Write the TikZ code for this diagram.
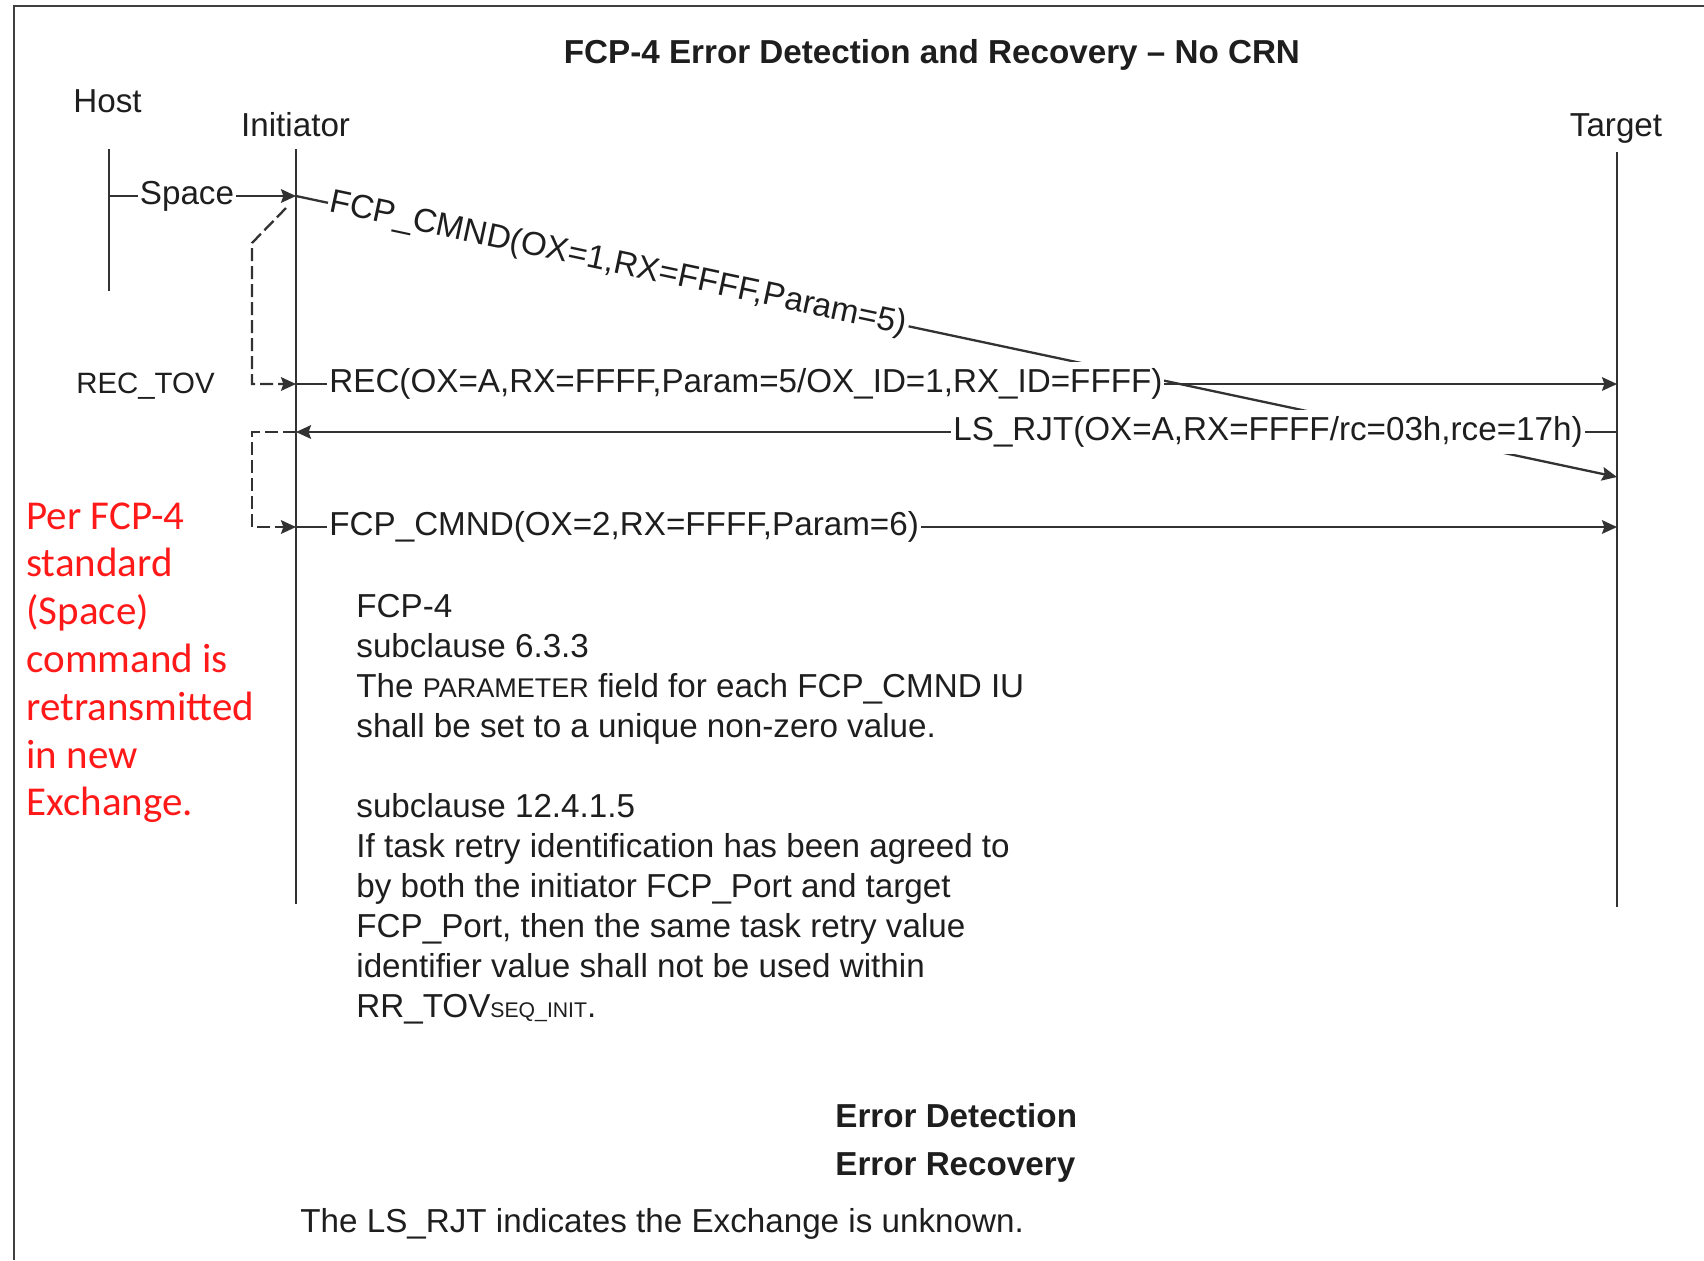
\documentclass[tikz,border=0pt]{standalone}
\usepackage{fontspec}
\setmainfont{Liberation Sans}
\newfontfamily\calib{Carlito}
\usetikzlibrary{arrows.meta}
\definecolor{txt}{RGB}{30,30,30}
\definecolor{lnc}{RGB}{50,50,50}
\definecolor{redtxt}{RGB}{255,25,25}
\begin{document}
\begin{tikzpicture}[x=0.5pt,y=-0.5pt,
  every node/.style={inner sep=0pt, text=txt, font=\fontsize{16.6}{20}\selectfont},
  ln/.style={draw=lnc, line width=1.15pt},
  tip/.style={-{Stealth[length=7.5pt,width=6.8pt,inset=1.2pt]}},
  msg/.style={ln, tip},
  lbl/.style={fill=white, inner xsep=1pt, inner ysep=3.5pt},
  dsh/.style={ln, dash pattern=on 6.5pt off 2.5pt},
  body/.style={anchor=base west},
  redl/.style={anchor=base west, text=redtxt, font=\calib\fontsize{20.5}{24}\selectfont},
  bold/.style={font=\bfseries\fontsize{16.6}{20}\selectfont}]
\useasboundingbox (0,0) rectangle (1704,1260);
\fill[white] (0,0) rectangle (1704,1260);
% frame
\draw[draw=black!75, line width=1.1pt] (14,1260) -- (14,6) -- (1704,6);
% title
\node[bold, anchor=base] (title) at (932,63) {FCP-4 Error Detection and Recovery -- No CRN};
% lifeline labels
\node[anchor=base] (host) at (107.5,112) {Host};
\node[anchor=base] (init) at (295.6,136) {Initiator};
\node[anchor=base] (targ) at (1616,136) {Target};
% lifelines
\coordinate (hostT) at (109,149); \coordinate (hostB) at (109,291);
\coordinate (iniT) at (296,149);  \coordinate (iniB) at (296,904);
\coordinate (tgtT) at (1617,152); \coordinate (tgtB) at (1617,907);
\draw[ln] (hostT) -- (hostB);
\draw[ln] (iniT) -- (iniB);
\draw[ln] (tgtT) -- (tgtB);
% message points
\coordinate (hSp) at (109,196);  \coordinate (iSp) at (296,196);
\coordinate (iRec) at (296,384); \coordinate (tRec) at (1617,384);
\coordinate (iRjt) at (296,432); \coordinate (tRjt) at (1617,432);
\coordinate (iCmd) at (296,527); \coordinate (tCmd) at (1617,527);
\coordinate (tDiag) at (1617,477);
% Space
\draw[msg] (hSp) -- (iSp);
\node[lbl] (space) at (187,196) {Space};
% diagonal FCP_CMND
\draw[msg] (iSp) -- (tDiag) node[lbl, sloped, pos=0.244] (cmd1) {FCP\_CMND(OX=1,RX=FFFF,Param=5)};
% REC
\draw[msg] (iRec) -- (tRec);
\node[lbl, anchor=west] (rec) at (327,384) {REC(OX=A,RX=FFFF,Param=5/OX\_ID=1,RX\_ID=FFFF)};
% LS_RJT
\draw[msg] (tRjt) -- (iRjt);
\node[lbl, anchor=east] (rjt) at (1585,432) {LS\_RJT(OX=A,RX=FFFF/rc=03h,rce=17h)};
% FCP_CMND 2
\draw[msg] (iCmd) -- (tCmd);
\node[lbl, anchor=west] (cmd2) at (327,527) {FCP\_CMND(OX=2,RX=FFFF,Param=6)};
% REC_TOV
\node[anchor=base, font=\fontsize{14.7}{18}\selectfont] (rectov) at (145.5,393) {REC\_TOV};
% dashed timers
\coordinate (d1) at (286,208);
\coordinate (d2) at (252,243);
\coordinate (d3) at (252,384);
\draw[dsh, tip] (d1) -- (d2) -- (d3) -- (iRec);
\coordinate (d4) at (252,432);
\coordinate (d5) at (252,527);
\draw[dsh, tip] (iRjt) -- (d4) -- (d5) -- (iCmd);
% red note
\node[redl] (r1) at (26,529) {Per FCP-4};
\node[redl] (r2) at (26,576.8) {standard};
\node[redl] (r3) at (26,624.6) {(Space)};
\node[redl] (r4) at (26,672.4) {command is};
\node[redl] (r5) at (26,720.2) {retransmitted};
\node[redl] (r6) at (26,768) {in new};
\node[redl] (r7) at (26,815.8) {Exchange.};
% body text
\node[body] (b1) at (356,617) {FCP-4};
\node[body] (b2) at (356,657) {subclause 6.3.3};
\node[body] (b3) at (356,697) {The {\fontsize{13.5}{16}\selectfont PARAMETER} field for each FCP\_CMND IU};
\node[body] (b4) at (356,737) {shall be set to a unique non-zero value.};
\node[body] (b5) at (356,817) {subclause 12.4.1.5};
\node[body] (b6) at (356,857) {If task retry identification has been agreed to};
\node[body] (b7) at (356,897) {by both the initiator FCP\_Port and target};
\node[body] (b8) at (356,937) {FCP\_Port, then the same task retry value};
\node[body] (b9) at (356,977) {identifier value shall not be used within};
\node[body] (b10) at (356,1017) {RR\_TOV{\fontsize{10.6}{12}\selectfont SEQ\_INIT}.};
% bottom
\node[bold, anchor=base west] (ed) at (835,1127) {Error Detection};
\node[bold, anchor=base west] (er) at (835,1175) {Error Recovery};
\node[body] (note) at (300,1232) {The LS\_RJT indicates the Exchange is unknown.};
\end{tikzpicture}
\end{document}
